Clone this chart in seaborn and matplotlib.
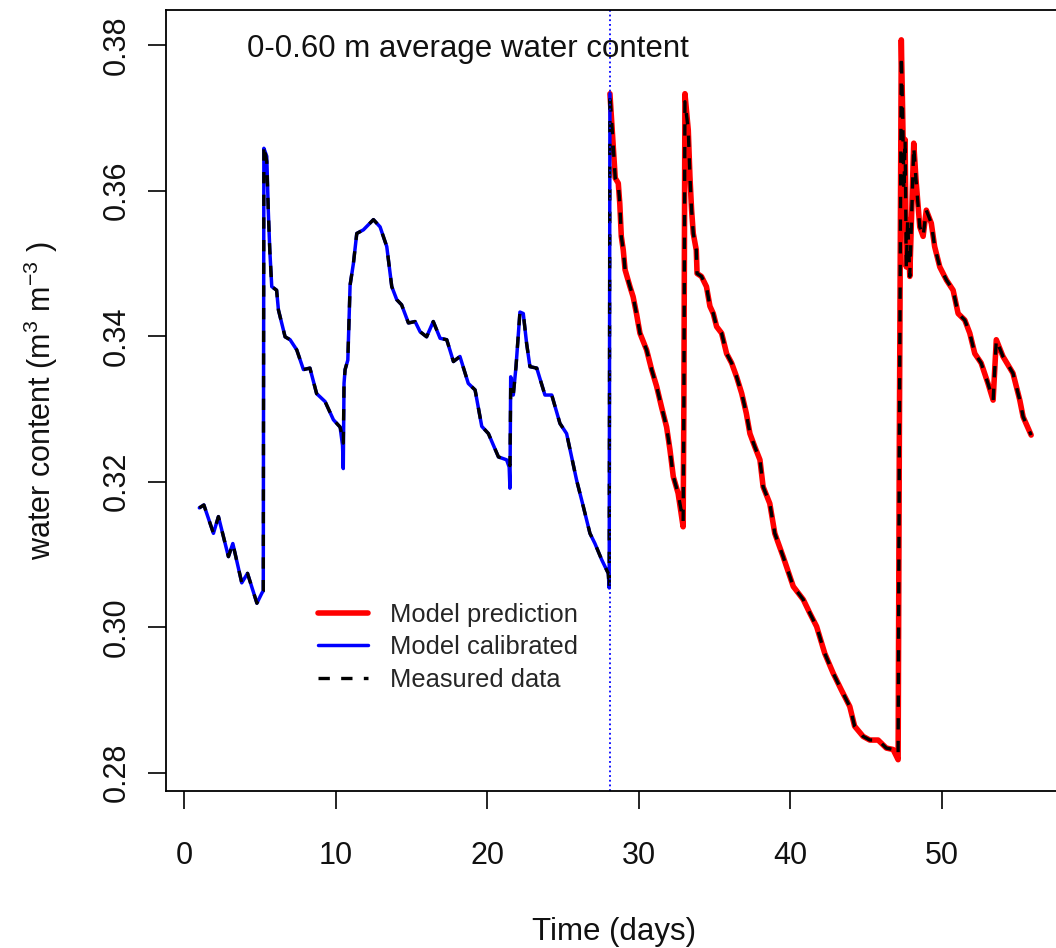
import matplotlib
matplotlib.use("Agg")
import matplotlib.pyplot as plt
from matplotlib.lines import Line2D
import seaborn as sns
import pandas as pd

# ---------------- data ----------------
# calibration period (model calibrated, blue)
t_cal = [1.0, 1.3, 1.93, 2.26, 2.92, 3.21, 3.8, 4.18, 4.8, 5.13, 5.22, 5.26, 5.45,
         5.55, 5.65, 5.78, 6.1, 6.22, 6.66, 6.99, 7.43, 7.87, 8.3, 8.74, 9.3, 9.85,
         10.29, 10.45, 10.5, 10.55, 10.62, 10.8, 10.95, 11.17, 11.39, 11.83, 12.49,
         12.93, 13.37, 13.7, 14.03, 14.35, 14.8, 15.24, 15.57, 16.0, 16.44, 16.89,
         17.33, 17.77, 18.2, 18.75, 19.2, 19.64, 20.08, 20.74, 21.28, 21.45, 21.5,
         21.55, 21.72, 21.9, 22.16, 22.38, 22.6, 22.82, 23.27, 23.81, 24.26, 24.8,
         25.24, 25.9, 26.34, 26.78, 27.11, 27.55, 27.99, 28.05, 28.1]
wc_cal = [0.3164, 0.3168, 0.3129, 0.3152, 0.3097, 0.3115, 0.3061, 0.3074, 0.3033,
          0.3047, 0.3050, 0.3658, 0.3647, 0.3573, 0.3518, 0.3468, 0.3463, 0.3436,
          0.3399, 0.3395, 0.3381, 0.3354, 0.3356, 0.3321, 0.3310, 0.3285, 0.3275,
          0.3250, 0.3218, 0.3335, 0.3354, 0.3367, 0.3470, 0.3500, 0.3541, 0.3546,
          0.3560, 0.3550, 0.3523, 0.3468, 0.3450, 0.3443, 0.3418, 0.3420, 0.3406,
          0.3399, 0.3420, 0.3397, 0.3395, 0.3365, 0.3372, 0.3335, 0.3326, 0.3276,
          0.3266, 0.3234, 0.3230, 0.3220, 0.3191, 0.3344, 0.3319, 0.3358, 0.3433,
          0.3431, 0.3390, 0.3358, 0.3356, 0.3319, 0.3319, 0.3280, 0.3266, 0.3202,
          0.3166, 0.3129, 0.3115, 0.3093, 0.3074, 0.3054, 0.3733]

# prediction period (model prediction, red)
t_pred = [28.1, 28.32, 28.45, 28.65, 28.75, 28.85, 28.98, 29.1, 29.42, 29.63, 29.85,
          30.08, 30.52, 30.85, 31.18, 31.5, 31.84, 32.06, 32.28, 32.6, 32.93, 32.98,
          33.05, 33.27, 33.38, 33.49, 33.6, 33.8, 33.85, 34.14, 34.47, 34.7, 34.92,
          35.14, 35.47, 35.8, 36.13, 36.46, 36.8, 37.1, 37.34, 37.66, 38.0, 38.21,
          38.65, 38.98, 39.53, 40.2, 40.86, 41.3, 41.74, 42.28, 42.83, 43.37, 43.93,
          44.25, 44.81, 45.25, 45.8, 46.34, 46.79, 47.12, 47.2, 47.33, 47.42, 47.5,
          47.58, 47.66, 47.75, 47.89, 48.15, 48.3, 48.55, 48.77, 48.98, 49.31, 49.53,
          49.87, 50.31, 50.75, 51.08, 51.52, 51.85, 52.18, 52.6, 53.05, 53.39, 53.6,
          54.04, 54.7, 55.15, 55.37, 55.9]
wc_pred = [0.3733, 0.3660, 0.3617, 0.3610, 0.3582, 0.3537, 0.3518, 0.3491, 0.3468,
           0.3454, 0.3431, 0.3404, 0.3381, 0.3354, 0.3331, 0.3303, 0.3275, 0.3244,
           0.3207, 0.3184, 0.3138, 0.3308, 0.3733, 0.3683, 0.3619, 0.3573, 0.3541,
           0.3518, 0.3486, 0.3482, 0.3468, 0.3441, 0.3431, 0.3413, 0.3404, 0.3376,
           0.3363, 0.3344, 0.3321, 0.3294, 0.3266, 0.3248, 0.3230, 0.3193, 0.3170,
           0.3129, 0.3097, 0.3056, 0.3038, 0.3019, 0.3001, 0.2964, 0.2937, 0.2914,
           0.2891, 0.2864, 0.2850, 0.2845, 0.2845, 0.2834, 0.2832, 0.2818, 0.3253,
           0.3807, 0.3706, 0.3600, 0.3670, 0.3495, 0.3560, 0.3482, 0.3665, 0.3615,
           0.3550, 0.3537, 0.3573, 0.3555, 0.3523, 0.3495, 0.3477, 0.3463, 0.3431,
           0.3422, 0.3404, 0.3376, 0.3363, 0.3335, 0.3312, 0.3395, 0.3372, 0.3349,
           0.3312, 0.3289, 0.3264]

# measured data (black dashed), whole period
t_meas = t_cal[:-1] + t_pred
wc_meas = [0.3164, 0.3168, 0.3129, 0.3152, 0.3097, 0.3115, 0.3061, 0.3074, 0.3033,
           0.3047, 0.3050, 0.3662, 0.3640, 0.3573, 0.3518, 0.3468, 0.3463, 0.3436,
           0.3399, 0.3395, 0.3381, 0.3354, 0.3356, 0.3321, 0.3310, 0.3285, 0.3275,
           0.3262, 0.3253, 0.3335, 0.3354, 0.3367, 0.3470, 0.3500, 0.3541, 0.3546,
           0.3560, 0.3550, 0.3523, 0.3468, 0.3450, 0.3443, 0.3418, 0.3420, 0.3406,
           0.3399, 0.3420, 0.3397, 0.3395, 0.3365, 0.3372, 0.3335, 0.3326, 0.3276,
           0.3266, 0.3234, 0.3230, 0.3225, 0.3222, 0.3330, 0.3319, 0.3358, 0.3433,
           0.3431, 0.3390, 0.3358, 0.3356, 0.3319, 0.3319, 0.3280, 0.3266, 0.3202,
           0.3166, 0.3129, 0.3115, 0.3093, 0.3074, 0.3054,
           0.3733, 0.3660, 0.3617, 0.3610, 0.3582, 0.3537, 0.3518, 0.3491, 0.3468,
           0.3454, 0.3431, 0.3404, 0.3381, 0.3354, 0.3331, 0.3303, 0.3275, 0.3244,
           0.3207, 0.3184, 0.3145, 0.3308, 0.3722, 0.3683, 0.3619, 0.3573, 0.3541,
           0.3518, 0.3486, 0.3482, 0.3468, 0.3441, 0.3431, 0.3413, 0.3404, 0.3376,
           0.3363, 0.3344, 0.3321, 0.3294, 0.3266, 0.3248, 0.3230, 0.3193, 0.3170,
           0.3129, 0.3097, 0.3056, 0.3038, 0.3019, 0.3001, 0.2964, 0.2937, 0.2914,
           0.2891, 0.2864, 0.2850, 0.2845, 0.2845, 0.2834, 0.2832, 0.2825, 0.3253,
           0.3785, 0.3706, 0.3600, 0.3670, 0.3495, 0.3560, 0.3482, 0.3660, 0.3615,
           0.3550, 0.3537, 0.3573, 0.3555, 0.3523, 0.3495, 0.3477, 0.3463, 0.3431,
           0.3422, 0.3404, 0.3376, 0.3363, 0.3335, 0.3312, 0.3395, 0.3372, 0.3349,
           0.3312, 0.3289, 0.3264]

split_day = 28.1
x_ticks = [0, 10, 20, 30, 40, 50]
y_ticks = [0.28, 0.30, 0.32, 0.34, 0.36, 0.38]
y_ticklabels = ["0.28", "0.30", "0.32", "0.34", "0.36", "0.38"]
title_text = "0-0.60 m average water content"
legend_labels = ["Model prediction", "Model calibrated", "Measured data"]

# ---------------- style ----------------
sns.set_style("white")
plt.rcParams["font.family"] = ["Liberation Sans", "DejaVu Sans"]
plt.rcParams["mathtext.fontset"] = "custom"
plt.rcParams["mathtext.rm"] = "Liberation Sans"
plt.rcParams["mathtext.it"] = "Liberation Sans"
plt.rcParams["mathtext.default"] = "regular"

W, H = 1056, 948
fig = plt.figure(figsize=(W / 100, H / 100), dpi=100)
ax_l, ax_r, ax_t, ax_b = 166, 1066, 10, 791
ax = fig.add_axes([ax_l / W, 1 - ax_b / H, (ax_r - ax_l) / W, (ax_b - ax_t) / H])

df_cal = pd.DataFrame({"t": t_cal, "wc": wc_cal})
df_pred = pd.DataFrame({"t": t_pred, "wc": wc_pred})
df_meas = pd.DataFrame({"t": t_meas, "wc": wc_meas})

dash = (0, (3.4, 3.4))
sns.lineplot(data=df_pred, x="t", y="wc", ax=ax, color="#ff0000", lw=4.0,
             sort=False, estimator=None)
sns.lineplot(data=df_cal, x="t", y="wc", ax=ax, color="#0000ff", lw=2.5,
             sort=False, estimator=None)
sns.lineplot(data=df_meas, x="t", y="wc", ax=ax, color="black", lw=2.4,
             linestyle=dash, sort=False, estimator=None)
ax.axvline(split_day, color="#0000ff", lw=1.3, linestyle=(0, (1, 1.6)))

ax.set_xlim(-1.2, 58.2)
ax.set_ylim(0.2775, 0.3848)
ax.set_xticks(x_ticks)
ax.set_yticks(y_ticks)
ax.set_yticklabels(y_ticklabels, rotation=90, va="center", ha="right")

for s in ax.spines.values():
    s.set_visible(True)
    s.set_color("black")
    s.set_linewidth(1.3)
ax.tick_params(axis="both", direction="out", length=13, width=1.2, color="black",
               labelsize=22, labelcolor="#111111", left=True, bottom=True)
ax.tick_params(axis="x", pad=23)
ax.tick_params(axis="y", pad=12)

ax.set_xlabel("Time (days)", fontsize=22.5, color="#111111")
ax.set_ylabel("water content (m$^{3}$ m$^{-3}$ )", fontsize=22, color="#111111")
ax.xaxis.set_label_coords((614 - ax_l) / (ax_r - ax_l), -(917 - ax_b) / (ax_b - ax_t))
ax.yaxis.set_label_coords(-(166 - 60) / (ax_r - ax_l), 0.5)

fig.text(247 / W, 1 - 57 / H, title_text, fontsize=22.5, color="#111111",
         ha="left", va="baseline")

handles = [Line2D([], [], color="#ff0000", lw=4.0),
           Line2D([], [], color="#0000ff", lw=2.5),
           Line2D([], [], color="black", lw=2.4, linestyle=dash)]
fig.legend(handles, legend_labels, loc="upper left",
           bbox_to_anchor=(318 / W, 1 - 603 / H), bbox_transform=fig.transFigure,
           frameon=False, fontsize=18.4, handlelength=1.96, handletextpad=0.86,
           labelspacing=0.33, borderpad=0, borderaxespad=0)

fig.savefig("out.png", dpi=100)
